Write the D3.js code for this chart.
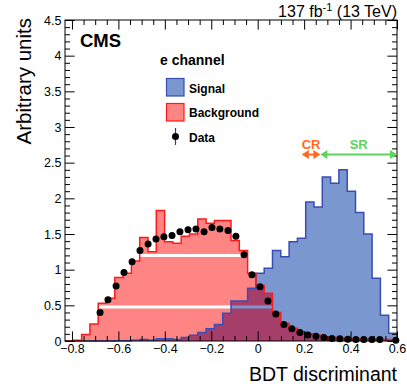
<!DOCTYPE html>
<html><head><meta charset="utf-8">
<script src="https://cdn.jsdelivr.net/npm/d3@7"></script>
<style>body{margin:0;background:#fff}svg{display:block}</style>
</head><body>
<svg id="c" width="407" height="391"></svg>
<script>
// ---------------- data ----------------
const binRange = [-0.83, 0.6];
const nBins = 40;
const signal = [0,0,0,0,0,0,0.005,0.005,0.01,0.02,
  0.01,0.03,0.03,0.02,0.05,0.08,0.12,0.17,0.23,0.39,
  0.56,0.56,0.74,0.95,1.02,1.27,1.18,1.39,1.44,1.95,
  1.88,2.30,2.21,2.40,2.10,1.80,1.50,0.88,0.36,0.11];
const background = [0.0,0.01,0.09,0.24,0.53,0.60,0.89,0.95,1.12,1.45,
  1.25,1.83,1.39,1.37,1.47,1.50,1.71,1.65,1.69,1.69,
  1.41,1.27,0.95,0.78,0.67,0.40,0.25,0.18,0.13,0.10,
  0.08,0.06,0.05,0.04,0.03,0.03,0.02,0.02,0.02,0.02];
const dataX = [-0.679,-0.645,-0.610,-0.576,-0.541,-0.507,-0.472,-0.438,-0.404,-0.369,
  -0.335,-0.300,-0.266,-0.231,-0.197,-0.163,-0.128,-0.094,-0.059,-0.025,
  0.010,0.044,0.078,0.113,0.147,0.182,0.216,0.251,0.285,0.320,
  0.354,0.388,0.423,0.457,0.492,0.526,0.561,0.595];
const dataY = [0.40,0.58,0.77,0.96,1.11,1.27,1.36,1.43,1.46,1.48,
  1.53,1.56,1.57,1.53,1.59,1.57,1.55,1.47,1.21,0.93,
  0.76,0.56,0.38,0.23,0.17,0.12,0.085,0.065,0.05,0.035,
  0.03,0.025,0.02,0.02,0.02,0.02,null,0.01];
const xMajor = [-0.8,-0.6,-0.4,-0.2,0,0.2,0.4,0.6];
const yMajor = [0,0.5,1,1.5,2,2.5,3,3.5,4,4.5];
const gapBands = [[0.456,0.498],[1.178,1.22]];
const regions = [
  {name:"CR", range:[0.19,0.27], color:"#ff6a1c"},
  {name:"SR", range:[0.27,0.6], color:"#5cd45c"}
];
const legendItems = ["Signal","Background","Data"];

// ---------------- chart ----------------
const FONT = "'Liberation Sans', Arial, Helvetica, sans-serif";
const C = {sigFill:"#7b97cf", sigLine:"#3a4cb5", bkgLine:"#ff1a1a", bkgFill:"#ff8585", overlap:"#a53e69"};
const svg = d3.select("#c");
const x = d3.scaleLinear().domain(binRange).range([65,397]);
const y = d3.scaleLinear().domain([0,4.5]).range([341,20]);
const edges = d3.range(nBins+1).map(i => binRange[0] + i*(binRange[1]-binRange[0])/nBins);

const defs = svg.append("defs");
const mask = defs.append("mask").attr("id","gapMask").attr("maskUnits","userSpaceOnUse")
  .attr("x",0).attr("y",0).attr("width",407).attr("height",391);
mask.append("rect").attr("width",407).attr("height",391).attr("fill","#fff");
gapBands.forEach(b => mask.append("rect").attr("x",0).attr("width",407)
  .attr("y", y(b[1])).attr("height", y(b[0]) - y(b[1])).attr("fill","#000"));

function pts(vals){ const p = vals.map((v,i)=>[edges[i],v]); p.push([edges[nBins], vals[nBins-1]]); return p; }
const area = d3.area().x(d=>x(d[0])).y0(y(0)).y1(d=>y(d[1])).curve(d3.curveStepAfter);
const line = d3.line().x(d=>x(d[0])).y(d=>y(d[1])).curve(d3.curveStepAfter);
const overlapVals = signal.map((s,i)=>Math.min(s, background[i]));

// signal
svg.append("path").attr("d", area(pts(signal))).attr("fill", C.sigFill);
// background (semi-transparent look: pink over white, dark over signal)
const bg = svg.append("g").attr("mask","url(#gapMask)");
bg.append("path").attr("d", area(pts(background))).attr("fill", C.bkgFill);
bg.append("path").attr("d", area(pts(overlapVals))).attr("fill", C.overlap);
// outlines
svg.append("path").attr("d", line([[edges[0],0]].concat(pts(signal)))).attr("fill","none")
  .attr("stroke", C.sigLine).attr("stroke-width",1.5);
svg.append("path").attr("d", line([[edges[0],0]].concat(pts(background)))).attr("fill","none")
  .attr("stroke", C.bkgLine).attr("stroke-width",1.5);

// axes ticks
function minorVals(lo, hi, step){ const v=[]; for(let t=lo; t<=hi+1e-9; t+=step) v.push(+t.toFixed(4)); return v; }
const xMinor = minorVals(-0.8, 0.6, 0.05).filter(t => !xMajor.some(m => Math.abs(m-t)<1e-6));
const yMinor = minorVals(0, 4.5, 0.1).filter(t => !yMajor.some(m => Math.abs(m-t)<1e-6));

function styleAxis(g){ g.select(".domain").remove(); g.selectAll("line").attr("stroke","#000");
  g.attr("font-family", FONT).attr("font-size", 12.5); g.selectAll("text").attr("fill","#000"); }

const fmt = d => (d<0 ? "\u2212" : "") + d3.format("")(Math.abs(d));
svg.append("g").attr("transform","translate(0,341)")
  .call(d3.axisBottom(x).tickValues(xMajor).tickSize(-9.6).tickPadding(3).tickFormat(fmt)).call(styleAxis);
svg.append("g").attr("transform","translate(0,341)")
  .call(d3.axisBottom(x).tickValues(xMinor).tickSize(-5).tickFormat("")).call(styleAxis);
svg.append("g").attr("transform","translate(0,20)")
  .call(d3.axisTop(x).tickValues(xMajor).tickSize(-9.6).tickFormat("")).call(styleAxis);
svg.append("g").attr("transform","translate(0,20)")
  .call(d3.axisTop(x).tickValues(xMinor).tickSize(-5).tickFormat("")).call(styleAxis);
svg.append("g").attr("transform","translate(65,0)")
  .call(d3.axisLeft(y).tickValues(yMajor).tickSize(-9.6).tickPadding(3.5).tickFormat(d=>d3.format("")(d))).call(styleAxis);
svg.append("g").attr("transform","translate(65,0)")
  .call(d3.axisLeft(y).tickValues(yMinor).tickSize(-5).tickFormat("")).call(styleAxis);
svg.append("g").attr("transform","translate(397,0)")
  .call(d3.axisRight(y).tickValues(yMajor).tickSize(-9.6).tickFormat("")).call(styleAxis);
svg.append("g").attr("transform","translate(397,0)")
  .call(d3.axisRight(y).tickValues(yMinor).tickSize(-5).tickFormat("")).call(styleAxis);

// frame
svg.append("rect").attr("x",65).attr("y",20).attr("width",332).attr("height",321)
  .attr("fill","none").attr("stroke","#000").attr("stroke-width",1);

// data points
svg.append("g").selectAll("circle").data(dataX.map((d,i)=>[d,dataY[i]]).filter(d=>d[1]!==null))
  .join("circle").attr("cx",d=>x(d[0])).attr("cy",d=>y(d[1])).attr("r",3.5).attr("fill","#000");

// titles
svg.append("text").attr("x",397).attr("y",381).attr("text-anchor","end")
  .attr("font-family",FONT).attr("font-size",19.5).text("BDT discriminant");
svg.append("text").attr("transform","translate(31,18) rotate(-90)").attr("text-anchor","end")
  .attr("font-family",FONT).attr("font-size",20.5).text("Arbitrary units");
const lumi = svg.append("text").attr("x",397).attr("y",16.5).attr("text-anchor","end")
  .attr("font-family",FONT).attr("font-size",16);
lumi.append("tspan").text("137 fb");
lumi.append("tspan").attr("font-size",11).attr("dy",-6).text("-1");
lumi.append("tspan").attr("dy",6).text(" (13 TeV)");
svg.append("text").attr("x",80).attr("y",47).attr("font-family",FONT).attr("font-weight","bold")
  .attr("font-size",18.5).text("CMS");
svg.append("text").attr("x",160).attr("y",65).attr("font-family",FONT).attr("font-weight","bold")
  .attr("font-size",14).text("e channel");

// legend
const lg = svg.append("g").attr("font-family",FONT).attr("font-weight","bold").attr("font-size",12);
lg.append("rect").attr("x",166.5).attr("y",78.5).attr("width",17.5).attr("height",17.5)
  .attr("fill",C.sigFill).attr("stroke",C.sigLine).attr("stroke-width",1.2);
lg.append("rect").attr("x",166.5).attr("y",103.5).attr("width",17.5).attr("height",17.5)
  .attr("fill",C.bkgFill).attr("stroke",C.bkgLine).attr("stroke-width",1.2);
lg.append("line").attr("x1",175.5).attr("x2",175.5).attr("y1",128).attr("y2",145)
  .attr("stroke","#2b3a9a").attr("stroke-width",1.2);
lg.append("circle").attr("cx",175.5).attr("cy",136.5).attr("r",3.5).attr("fill","#000");
lg.selectAll("text.li").data(legendItems).join("text").attr("class","li")
  .attr("x",189).attr("y",(d,i)=>92.5 + i*24.5).text(d=>d);

// CR / SR
const ay = 154.5, ah = 7, aw = 4.5;
regions.forEach(r => {
  const x0 = x(r.range[0]), x1 = x(r.range[1]);
  const g = svg.append("g");
  g.append("line").attr("x1",x0+ah-1).attr("x2",x1-ah+1).attr("y1",ay).attr("y2",ay)
    .attr("stroke",r.color).attr("stroke-width",2);
  g.append("path").attr("d",`M${x0},${ay}L${x0+ah},${ay-aw}L${x0+ah},${ay+aw}Z`).attr("fill",r.color);
  g.append("path").attr("d",`M${x1},${ay}L${x1-ah},${ay-aw}L${x1-ah},${ay+aw}Z`).attr("fill",r.color);
  g.append("text").attr("x",(x0+x1)/2).attr("y",148.5).attr("text-anchor","middle")
    .attr("font-family",FONT).attr("font-weight","bold").attr("font-size",13)
    .attr("fill",r.color).text(r.name);
});
</script>
</body></html>
